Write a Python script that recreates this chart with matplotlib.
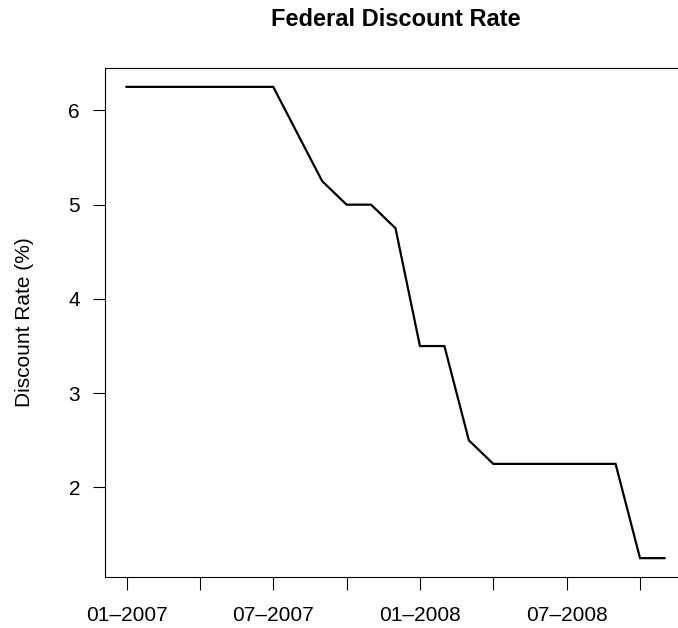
import matplotlib
matplotlib.use("Agg")
import matplotlib.pyplot as plt

# Monthly federal discount rate, Jan 2007 - Nov 2008
months = ["01-2007", "02-2007", "03-2007", "04-2007", "05-2007", "06-2007",
          "07-2007", "08-2007", "09-2007", "10-2007", "11-2007", "12-2007",
          "01-2008", "02-2008", "03-2008", "04-2008", "05-2008", "06-2008",
          "07-2008", "08-2008", "09-2008", "10-2008", "11-2008"]
rates = [6.25, 6.25, 6.25, 6.25, 6.25, 6.25,
         6.25, 5.75, 5.25, 5.00, 5.00, 4.75,
         3.50, 3.50, 2.50, 2.25, 2.25, 2.25,
         2.25, 2.25, 2.25, 1.25, 1.25]
y_ticks = [2, 3, 4, 5, 6]

plt.rcParams["font.family"] = ["Liberation Sans", "DejaVu Sans"]

W, H = 678, 628
fig = plt.figure(figsize=(W / 100, H / 100), dpi=100)
left, right, bottom, top = 105, 686, 577, 68
ax = fig.add_axes([left / W, (H - bottom) / H, (right - left) / W, (bottom - top) / H])

x = list(range(len(months)))
ax.plot(x, rates, color="black", linewidth=1.6, solid_joinstyle="miter")

n = len(months)
pad = 0.04 * (n - 1)
ax.set_xlim(-pad, n - 1 + pad)
ymin, ymax = min(rates), max(rates)
ypad = 0.04 * (ymax - ymin)
ax.set_ylim(ymin - ypad, ymax + ypad)

xt = list(range(0, n, 3))
ax.set_xticks(xt)
ax.set_xticklabels([months[i].replace("-", "\u2013") if i % 6 == 0 else "" for i in xt])
ax.set_yticks(y_ticks)
ax.set_yticklabels([str(v) for v in y_ticks])

for s in ax.spines.values():
    s.set_linewidth(0.8)
ax.tick_params(axis="both", direction="out", length=9, width=0.8, labelsize=15)
ax.tick_params(axis="x", pad=12)
ax.tick_params(axis="y", pad=9)

ax.set_ylabel("Discount Rate (%)", fontsize=15, labelpad=25)
fig.text(0.5 * (left + right) / W, 1 - 19 / H, "Federal Discount Rate",
         ha="center", va="center", fontsize=17, fontweight="bold")

fig.savefig("out.png", dpi=100)
